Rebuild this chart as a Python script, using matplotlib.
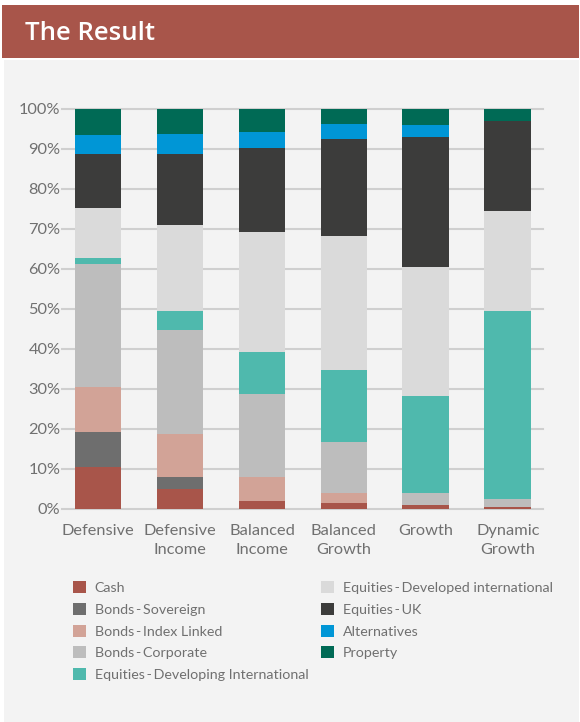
import matplotlib
matplotlib.use("Agg")
import matplotlib.pyplot as plt
from matplotlib.patches import Rectangle
import numpy as np

# portfolio names on the x axis
portfolios = ["Defensive", "Defensive\nIncome", "Balanced\nIncome",
              "Balanced\nGrowth", "Growth", "Dynamic\nGrowth"]

# allocation (%) per asset class, bottom to top of each stack
cash          = [10.5, 5.0, 2.0, 1.5, 1.0, 0.5]
bonds_sov     = [8.75, 3.0, 0.0, 0.0, 0.0, 0.0]
bonds_index   = [11.25, 10.75, 6.0, 2.5, 0.0, 0.0]
bonds_corp    = [30.75, 26.0, 20.75, 12.75, 3.0, 2.0]
eq_developing = [1.5, 4.75, 10.5, 18.0, 24.25, 47.0]
eq_developed  = [12.5, 21.5, 30.0, 33.5, 32.25, 25.0]
eq_uk         = [13.5, 17.75, 21.0, 24.25, 32.5, 22.5]
alternatives  = [4.75, 5.0, 4.0, 3.75, 3.0, 0.0]
property_     = [6.5, 6.25, 5.75, 3.75, 4.0, 3.0]

sep = "\u2009-\u2009"
series = [
    ("Cash", cash, "#A8554A"),
    ("Bonds" + sep + "Sovereign", bonds_sov, "#6E6E6E"),
    ("Bonds" + sep + "Index Linked", bonds_index, "#D2A397"),
    ("Bonds" + sep + "Corporate", bonds_corp, "#BDBDBD"),
    ("Equities" + sep + "Developing International", eq_developing, "#4FB9AD"),
    ("Equities" + sep + "Developed international", eq_developed, "#DADADA"),
    ("Equities" + sep + "UK", eq_uk, "#3C3C3B"),
    ("Alternatives", alternatives, "#0096D6"),
    ("Property", property_, "#006A55"),
]

plt.rcParams['font.family'] = ['Lato', 'DejaVu Sans']
text_col = "#707070"

W, H = 580, 722
fig = plt.figure(figsize=(W / 100, H / 100), dpi=100)
fig.patch.set_facecolor("white")

# grey panel and red header band
fig.patches.append(Rectangle((4 / W, 0), 575 / W, 1 - 60 / H, transform=fig.transFigure,
                             facecolor="#F3F3F3", edgecolor="none", zorder=-5))
fig.patches.append(Rectangle((2 / W, 1 - 58 / H), 577 / W, 53 / H, transform=fig.transFigure,
                             facecolor="#A8554A", edgecolor="none", zorder=-5))
fig.text(25 / W, 1 - 33 / H, "The Result", color="white", fontsize=18.5,
         fontweight="semibold", family=['Open Sans', 'DejaVu Sans'], va="center", ha="left")

ax = fig.add_axes([62 / W, 1 - 509 / H, 481 / W, 400 / H])
ax.set_facecolor("none")
ax.set_zorder(2)

x = np.arange(len(portfolios))
bottom = np.zeros(len(portfolios))
for label, vals, col in series:
    ax.bar(x, vals, bottom=bottom, width=0.57, color=col, label=label, zorder=3)
    bottom += np.array(vals)

ax.set_xlim(-0.44, 5.43)
ax.set_ylim(0, 100)
ax.set_yticks(np.arange(0, 101, 10))
ax.set_yticklabels([f"{v}%" for v in range(0, 101, 10)])
ax.set_xticks(x)
ax.set_xticklabels(portfolios, linespacing=1.4)
ax.yaxis.grid(True, color="#CFCFCF", linewidth=1.5, zorder=0, clip_on=False)
for s in ax.spines.values():
    s.set_visible(False)
ax.tick_params(axis="y", length=0, pad=1, labelsize=11.8, labelcolor=text_col)
ax.tick_params(axis="x", length=0, pad=11, labelsize=11.8, labelcolor=text_col)

fig.legend(loc="upper left", bbox_to_anchor=(66 / W, 1 - 574 / H), ncol=2,
           frameon=False, fontsize=10.3, labelcolor=text_col, borderpad=0,
           handlelength=0.9, handleheight=0.9, handletextpad=0.6,
           labelspacing=0.62, columnspacing=0.9)

fig.savefig("out.png", dpi=100, facecolor=fig.get_facecolor())
